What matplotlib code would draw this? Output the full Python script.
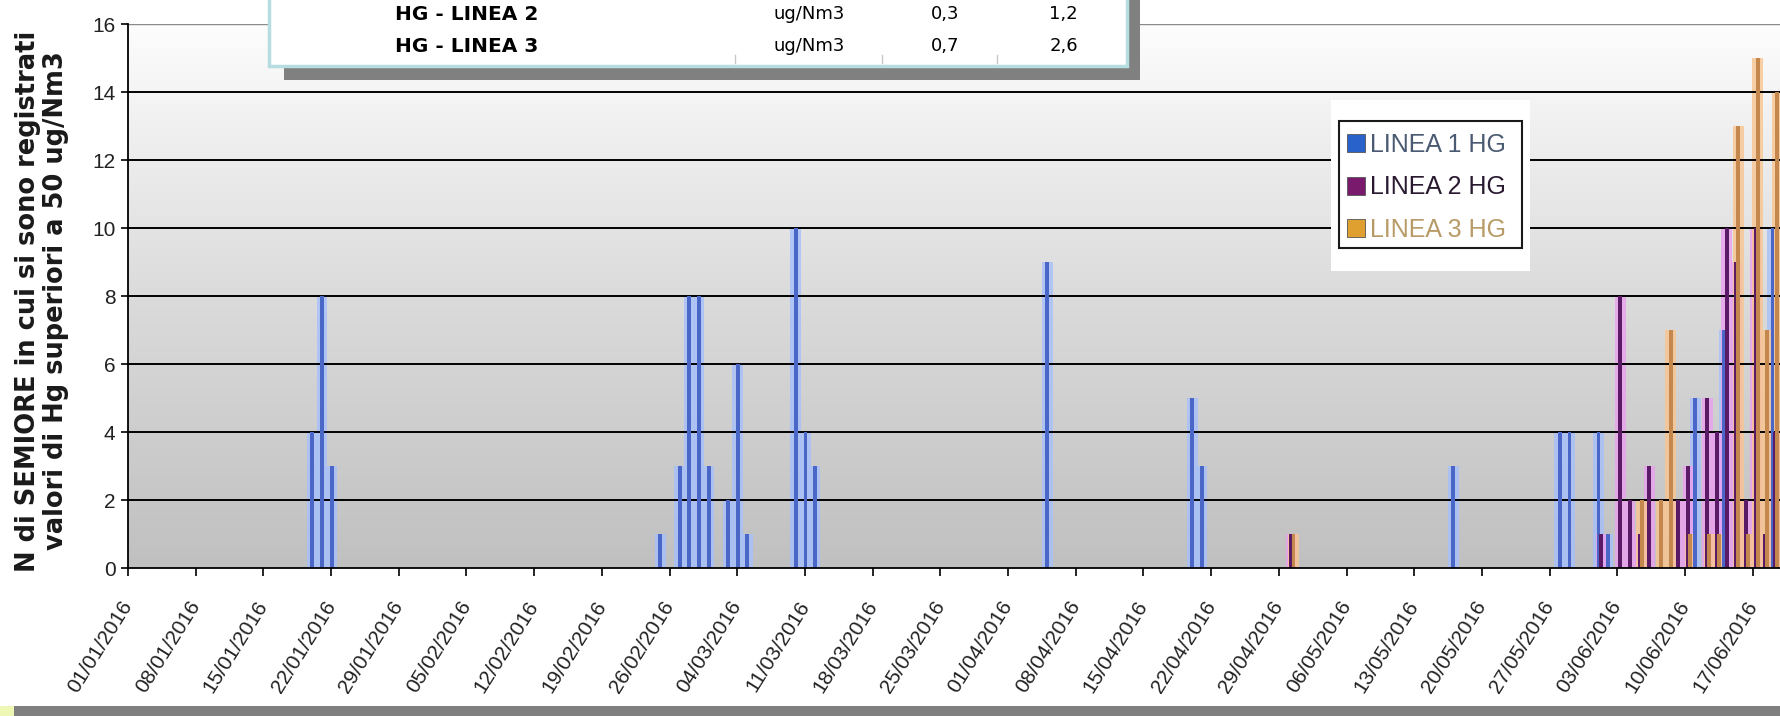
import matplotlib
matplotlib.use("Agg")
import matplotlib.pyplot as plt
from matplotlib.patches import Rectangle
from matplotlib.colors import LinearSegmentedColormap
from matplotlib.transforms import ScaledTranslation
import numpy as np
import pandas as pd

# giorni con superamenti (N di semiore > 50 ug/Nm3)
linea1_dates = ['2016-01-20', '2016-01-21', '2016-01-22', '2016-02-25', '2016-02-27',
                '2016-02-28', '2016-02-29', '2016-03-01', '2016-03-03', '2016-03-04',
                '2016-03-05', '2016-03-10', '2016-03-11', '2016-03-12', '2016-04-05',
                '2016-04-20', '2016-04-21', '2016-05-17', '2016-05-28', '2016-05-29',
                '2016-06-01', '2016-06-02', '2016-06-11', '2016-06-14', '2016-06-19']
linea1_vals = [4, 8, 3, 1, 3, 8, 8, 3, 2, 6, 1, 10, 4, 3, 9, 5, 3, 3, 4, 4, 4, 1, 5, 7, 10]

linea2_dates = ['2016-04-30', '2016-06-01', '2016-06-03', '2016-06-04', '2016-06-05',
                '2016-06-06', '2016-06-09', '2016-06-10', '2016-06-12', '2016-06-13',
                '2016-06-14', '2016-06-15', '2016-06-16', '2016-06-17', '2016-06-18',
                '2016-06-19']
linea2_vals = [1, 1, 8, 2, 1, 3, 2, 3, 5, 4, 10, 9, 2, 10, 1, 4]

linea3_dates = ['2016-04-30', '2016-06-05', '2016-06-07', '2016-06-08', '2016-06-10',
                '2016-06-12', '2016-06-13', '2016-06-15', '2016-06-16', '2016-06-17',
                '2016-06-18', '2016-06-19']
linea3_vals = [1, 2, 2, 7, 1, 1, 1, 13, 1, 15, 7, 14]

series_names = ['LINEA 1 HG', 'LINEA 2 HG', 'LINEA 3 HG']

# tabellina in alto
table_rows = [['HG - LINEA 2', 'ug/Nm3', '0,3', '1,2'],
              ['HG - LINEA 3', 'ug/Nm3', '0,7', '2,6']]

start = pd.Timestamp('2016-01-01')
tick_dates = pd.date_range('2016-01-01', '2016-06-17', freq='7D')

W, H = 1780, 716
fig = plt.figure(figsize=(W / 100, H / 100), dpi=100)
fig.patch.set_facecolor('white')

def fx(px):
    return px / W

def fy(py):
    return 1 - py / H

ax = fig.add_axes([fx(128), fy(568), fx(W - 128), (568 - 24) / H])
ax.set_xlim(0, (W - 128) / 9.671)
ax.set_ylim(0, 16)

# sfondo sfumato dell'area del grafico
grad = LinearSegmentedColormap.from_list('bg', ['#c0c0c0', '#dbdbdb', '#fdfdfd'])
ax.imshow(np.linspace(0, 1, 256).reshape(-1, 1), extent=[0, 1, 0, 1], transform=ax.transAxes,
          cmap=grad, aspect='auto', origin='lower', zorder=0)

for v in range(2, 16, 2):
    ax.axhline(v, color='black', lw=1.4, zorder=1.5)
ax.axhline(16, color='#8a8a8a', lw=1.0, zorder=1.5)

styles = [('#4a66c6', '#a6c0fa', 0.05),
          ('#5a1a66', '#eaa0ee', 0.30),
          ('#c4874e', '#f9c590', 0.52)]
data = [(linea1_dates, linea1_vals), (linea2_dates, linea2_vals), (linea3_dates, linea3_vals)]

for (dates, vals), (core, halo, off) in zip(data, styles):
    x = (pd.to_datetime(dates) - start).days.values + off
    ax.bar(x, vals, width=1.1, color=halo, alpha=0.8, zorder=1, linewidth=0)
for (dates, vals), (core, halo, off) in zip(data, styles):
    x = (pd.to_datetime(dates) - start).days.values + off
    ax.bar(x, vals, width=0.4, color=core, zorder=2, linewidth=0)

for s in ['top', 'right']:
    ax.spines[s].set_visible(False)
ax.spines['left'].set_linewidth(1.3)
ax.spines['bottom'].set_linewidth(1.3)
ax.spines['left'].set_zorder(3)
ax.spines['bottom'].set_zorder(3)

ax.set_yticks(range(0, 17, 2))
ax.set_yticklabels([str(v) for v in range(0, 17, 2)], fontsize=15, color='#222222',
                   family='Liberation Sans')
ax.tick_params(axis='y', length=5, width=1.2, pad=4)
ax.set_xticks((tick_dates - start).days)
ax.set_xticklabels(tick_dates.strftime('%d/%m/%Y'), rotation=58, ha='right', va='top',
                   rotation_mode='anchor', fontsize=15, color='#222222', family='Liberation Sans')
ax.tick_params(axis='x', length=6, width=1.2, pad=15)
shift = ScaledTranslation(-8 / 100, 0, fig.dpi_scale_trans)
for lab in ax.get_xticklabels():
    lab.set_transform(lab.get_transform() + shift)

fig.text(fx(42), fy(301), 'N di SEMIORE in cui si sono registrati\nvalori di Hg superiori a 50 ug/Nm3',
         rotation=90, ha='center', va='center', multialignment='center',
         fontsize=18.5, fontweight='bold', linespacing=1.1, color='#1a1a1a')

# tabellina con ombra
fig.patches.append(Rectangle((fx(284), fy(80)), fx(1140 - 284), 1, transform=fig.transFigure,
                             facecolor='#808080', edgecolor='none', zorder=5))
fig.patches.append(Rectangle((fx(269), fy(66)), fx(1127 - 269), 1, transform=fig.transFigure,
                             facecolor='white', edgecolor='#b6dde0', lw=2.5, zorder=6))
for i, row in enumerate(table_rows):
    yy = fy(14 + 32 * i)
    fig.text(fx(395), yy, row[0], ha='left', va='center', fontsize=14.5, fontweight='bold', zorder=7)
    fig.text(fx(809), yy, row[1], ha='center', va='center', fontsize=13, zorder=7)
    fig.text(fx(945), yy, row[2], ha='center', va='center', fontsize=13, zorder=7)
    fig.text(fx(1078), yy, row[3], ha='right', va='center', fontsize=13, zorder=7)
for sx in [735, 882, 997]:
    fig.lines.append(plt.Line2D([fx(sx), fx(sx)], [fy(55), fy(63)], transform=fig.transFigure,
                                color='#c8c8c8', lw=1, zorder=7))

# legenda
fig.patches.append(Rectangle((fx(1331), fy(271)), fx(199), 171 / H, transform=fig.transFigure,
                             facecolor='white', edgecolor='none', zorder=5))
fig.patches.append(Rectangle((fx(1339), fy(248)), fx(183), 127 / H, transform=fig.transFigure,
                             facecolor='white', edgecolor='#1a1a1a', lw=1.5, zorder=6))
leg_fill = ['#2a62cc', '#7a1a6c', '#e0a030']
leg_text = ['#4a5a72', '#2a1a30', '#b89a66']
for i, name in enumerate(series_names):
    yc = 143 + 42.5 * i
    fig.patches.append(Rectangle((fx(1347), fy(yc + 9)), fx(18), 18 / H, transform=fig.transFigure,
                                 facecolor=leg_fill[i], edgecolor='#555555', lw=0.6, zorder=7))
    fig.text(fx(1370), fy(yc + 2), name, ha='left', va='center', fontsize=18, color=leg_text[i],
             family='Liberation Sans', zorder=7)

# banda grigia in basso
fig.patches.append(Rectangle((fx(14), 0), 1, 10 / H, transform=fig.transFigure,
                             facecolor='#808080', edgecolor='none'))
fig.patches.append(Rectangle((0, 0), fx(14), 10 / H, transform=fig.transFigure,
                             facecolor='#eef7b4', edgecolor='none'))

fig.savefig('out.png', dpi=100)
